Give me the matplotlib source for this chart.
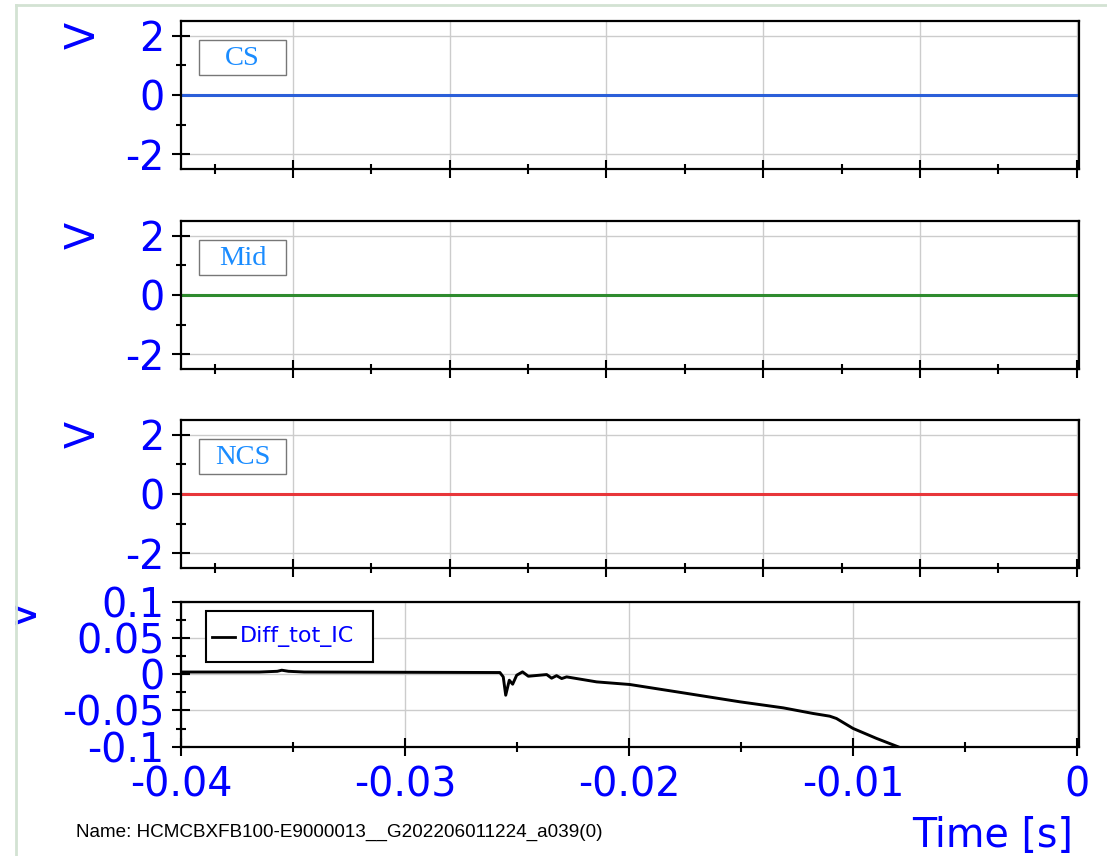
import matplotlib
matplotlib.use('Agg')
import matplotlib.pyplot as plt
from matplotlib.ticker import MultipleLocator
from matplotlib.lines import Line2D
from matplotlib.patches import Rectangle

# channel data (time in s, voltage in V)
time_flat = [-0.04, 0.0]
cs_volts = [0.0, 0.0]
mid_volts = [0.0, 0.0]
ncs_volts = [0.0, 0.0]

diff_time = [-0.04, -0.0365, -0.0357, -0.0355, -0.0352, -0.0345, -0.0280, -0.02576,
             -0.02561, -0.02550, -0.02534, -0.02519, -0.02501, -0.02475, -0.02449,
             -0.02367, -0.02345, -0.02323, -0.02300, -0.02278, -0.02144, -0.01996,
             -0.01758, -0.01504, -0.01311, -0.01177, -0.01103, -0.01073, -0.00999,
             -0.00894, -0.00798, -0.0075]
diff_volts = [0.003, 0.003, 0.004, 0.0055, 0.004, 0.003, 0.0025, 0.0023,
              -0.0037, -0.029, -0.0083, -0.0138, -0.0014, 0.0032, -0.0028,
              -0.0005, -0.0055, -0.002, -0.006, -0.0037, -0.0106, -0.0142,
              -0.0257, -0.0381, -0.0464, -0.0542, -0.0579, -0.0611, -0.0748,
              -0.0886, -0.1001, -0.106]

channel_names = ['CS', 'Mid', 'NCS']
channel_colors = ['#2b5fd9', '#2e8b2e', '#e8363a']
channel_volts = [cs_volts, mid_volts, ncs_volts]
diff_name = 'Diff_tot_IC'

name_text = 'Name: HCMCBXFB100-E9000013__G202206011224_a039(0)'

W, H = 1107, 856
fig = plt.figure(figsize=(W / 100, H / 100), dpi=100)

blue = '#0000ff'
big = 28.5


def style_axes(ax):
    for s in ax.spines.values():
        s.set_linewidth(1.6)
        s.set_color('black')
    ax.tick_params(which='major', direction='inout', length=13.5, width=1.5,
                   labelsize=big, labelcolor=blue, pad=5)
    ax.tick_params(which='minor', direction='inout', length=7, width=1.5)
    ax.grid(True, which='major', color='#cccccc', linewidth=1)
    ax.set_axisbelow(True)
    ax.set_xlim(-0.04, 0.0001)


panel_tops = [20.7, 220.7, 420.0]
for i in range(3):
    top = panel_tops[i]
    ax = fig.add_axes([181 / W, 1 - (top + 148.3) / H, 898 / W, 148.3 / H])
    ax.plot(time_flat, channel_volts[i], color=channel_colors[i], linewidth=2.2)
    style_axes(ax)
    ax.set_ylim(-2.5, 2.5)
    ax.yaxis.set_major_locator(MultipleLocator(2))
    ax.yaxis.set_minor_locator(MultipleLocator(1))
    ax.xaxis.set_major_locator(MultipleLocator(0.007))
    ax.xaxis.set_minor_locator(MultipleLocator(0.0035))
    ax.set_yticks([-2, 0, 2])
    ax.set_yticklabels(['-2', '0', '2'])
    ax.tick_params(axis='x', labelbottom=False)
    # legend box with channel name
    ax.add_patch(Rectangle((18 / 898, 1 - 54 / 148.3), 87 / 898, 35 / 148.3,
                           transform=ax.transAxes, facecolor='white',
                           edgecolor='#777777', linewidth=1, zorder=5))
    ax.text(61.5 / 898, 1 - 37.5 / 148.3, channel_names[i], transform=ax.transAxes,
            ha='center', va='center', fontsize=20.5, family='Liberation Serif',
            color='#1a8cff', zorder=6)
    fig.text(84 / W, 1 - (top + 14.5) / H, 'V', rotation=90, ha='center', va='center',
             fontsize=big, color=blue)

# bottom panel
aw, ah = 898, 145
ax4 = fig.add_axes([181 / W, 1 - 746.7 / H, aw / W, ah / H])
ax4.plot(diff_time, diff_volts, color='black', linewidth=2.1)
style_axes(ax4)
ax4.set_ylim(-0.1, 0.1)
ax4.yaxis.set_major_locator(MultipleLocator(0.05))
ax4.yaxis.set_minor_locator(MultipleLocator(0.025))
ax4.xaxis.set_major_locator(MultipleLocator(0.01))
ax4.xaxis.set_minor_locator(MultipleLocator(0.005))
ax4.set_yticks([-0.1, -0.05, 0, 0.05, 0.1])
ax4.set_yticklabels(['-0.1', '-0.05', '0', '0.05', '0.1'])
ax4.set_xticks([-0.04, -0.03, -0.02, -0.01, 0])
ax4.set_xticklabels(['-0.04', '-0.03', '-0.02', '-0.01', '0'])
ax4.tick_params(axis='x', pad=7)

# legend drawn by hand (box, line sample, label)
ax4.add_patch(Rectangle((25 / aw, 1 - 60.3 / ah), 167 / aw, 51 / ah,
                        transform=ax4.transAxes, facecolor='white',
                        edgecolor='black', linewidth=1.5, zorder=5))
ax4.add_line(Line2D([31 / aw, 54 / aw], [1 - 35 / ah, 1 - 35 / ah],
                    transform=ax4.transAxes, color='black', linewidth=2, zorder=6))
ax4.text(59 / aw, 1 - 35 / ah, diff_name, transform=ax4.transAxes, ha='left',
         va='center', fontsize=16, color=blue, zorder=6)

fig.text(26 / W, 1 - 614 / H, 'V', rotation=90, ha='center', va='center',
         fontsize=big, color=blue)
# white cover left of the frame line clips the bottom "V"
fig.add_artist(Rectangle((0, 0), 15 / W, 1, transform=fig.transFigure,
                         facecolor='white', edgecolor='none', zorder=10))

fig.text(1073 / W, 1 - 847 / H, 'Time [s]', ha='right', va='baseline',
         fontsize=big, color=blue)
fig.text(76 / W, 1 - 837 / H, name_text, ha='left', va='baseline',
         fontsize=13.6, family='Liberation Sans', color='black')

# pale green frame
fig.add_artist(Line2D([16 / W, 16 / W], [0, 1 - 5 / H], transform=fig.transFigure,
                      color='#d3e2d3', linewidth=2, zorder=11))
fig.add_artist(Line2D([16 / W, 1], [1 - 5 / H, 1 - 5 / H], transform=fig.transFigure,
                      color='#d3e2d3', linewidth=2, zorder=11))

fig.savefig('out.png', dpi=100)
